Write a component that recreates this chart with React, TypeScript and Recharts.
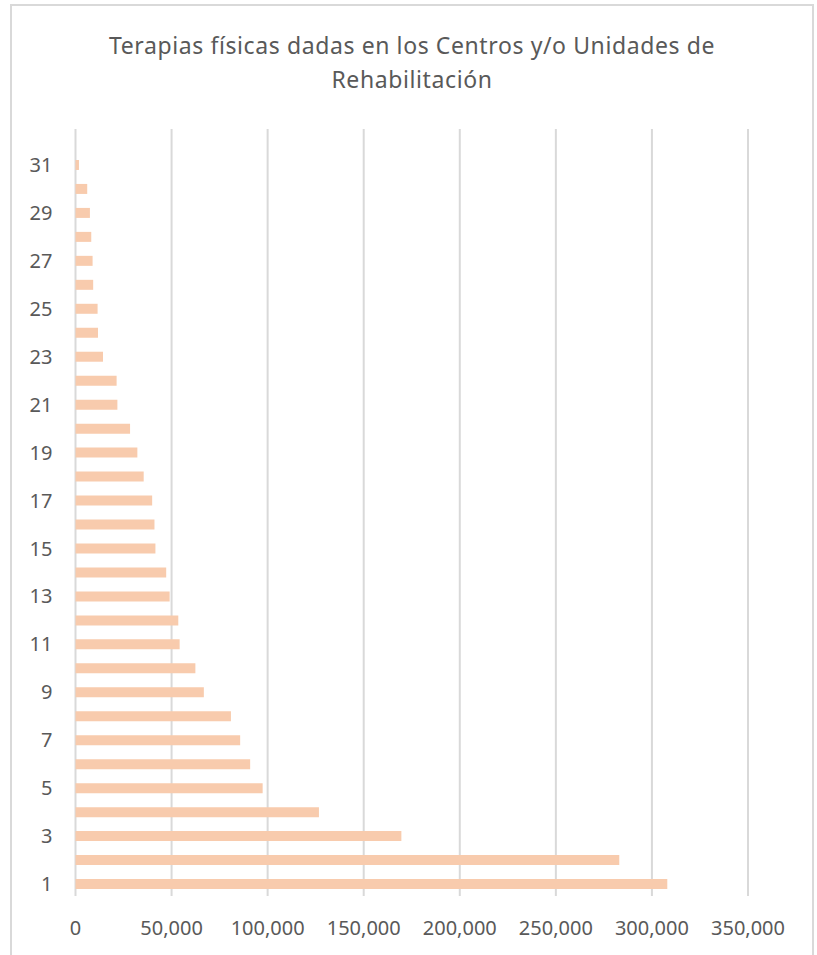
import React from 'react';
import { BarChart, Bar, XAxis, YAxis, CartesianGrid } from 'recharts';

// categories 1..31 (32 is an empty slot at the top of the axis)
const categories = [
  '1', '2', '3', '4', '5', '6', '7', '8', '9', '10',
  '11', '12', '13', '14', '15', '16', '17', '18', '19', '20',
  '21', '22', '23', '24', '25', '26', '27', '28', '29', '30',
  '31', '32',
];

const terapias = [
  308000, 283000, 169600, 126700, 97400, 90900, 85700, 80900, 66800, 62400,
  54200, 53500, 49000, 47200, 41600, 41100, 39900, 35500, 32200, 28400,
  21800, 21400, 14300, 11700, 11500, 9200, 8900, 8200, 7500, 6100,
  1800, null,
];

const yTickLabels = ['1', '3', '5', '7', '9', '11', '13', '15', '17', '19', '21', '23', '25', '27', '29', '31'];
const xTicks = [0, 50000, 100000, 150000, 200000, 250000, 300000, 350000];

const titleLines = ['Terapias físicas dadas en los Centros y/o Unidades de', 'Rehabilitación'];

const data = categories.map((c, i) => ({ cat: c, value: terapias[i] }));

const FONT = '"Noto Sans", "Open Sans", sans-serif';
const TEXT = '#595959';

export default function App() {
  return (
    <div style={{ position: 'fixed', left: 0, top: 0, width: 817, height: 955, overflow: 'hidden', background: '#fff', fontFamily: FONT }}>
      <div
        style={{
          position: 'absolute',
          left: 10,
          top: 4,
          width: 804,
          height: 980,
          border: '2px solid #d9d9d9',
          boxSizing: 'border-box',
        }}
      />
      <div
        style={{
          position: 'absolute',
          left: 10,
          width: 804,
          top: 28,
          textAlign: 'center',
          color: TEXT,
          fontSize: 23,
          letterSpacing: 0.6,
          lineHeight: '34px',
        }}
      >
        {titleLines.map((t) => (
          <div key={t}>{t}</div>
        ))}
      </div>
      <div style={{ position: 'absolute', left: 0, top: 0 }}>
        <BarChart
          width={817}
          height={955}
          data={data}
          layout="vertical"
          margin={{ top: 129, right: 69, left: 0, bottom: 0 }}
          barSize={10}
        >
          <CartesianGrid horizontal={false} stroke="#d9d9d9" strokeWidth={2} />
          <XAxis
            type="number"
            domain={[0, 350000]}
            ticks={xTicks}
            axisLine={false}
            tickLine={false}
            tickSize={0}
            tickMargin={25}
            height={59}
            interval={0}
            tick={{ fill: TEXT, fontSize: 20, fontFamily: FONT }}
            tickFormatter={(v: number) => v.toLocaleString('en-US')}
          />
          <YAxis
            type="category"
            dataKey="cat"
            reversed
            width={75.5}
            axisLine={false}
            tickLine={false}
            tickSize={0}
            tickMargin={23}
            interval={0}
            tick={{ fill: TEXT, fontSize: 20, fontFamily: FONT }}
            tickFormatter={(v: string) => (yTickLabels.includes(String(v)) ? v : '')}
          />
          <Bar dataKey="value" fill="#F8CBAD" isAnimationActive={false} />
        </BarChart>
      </div>
    </div>
  );
}
